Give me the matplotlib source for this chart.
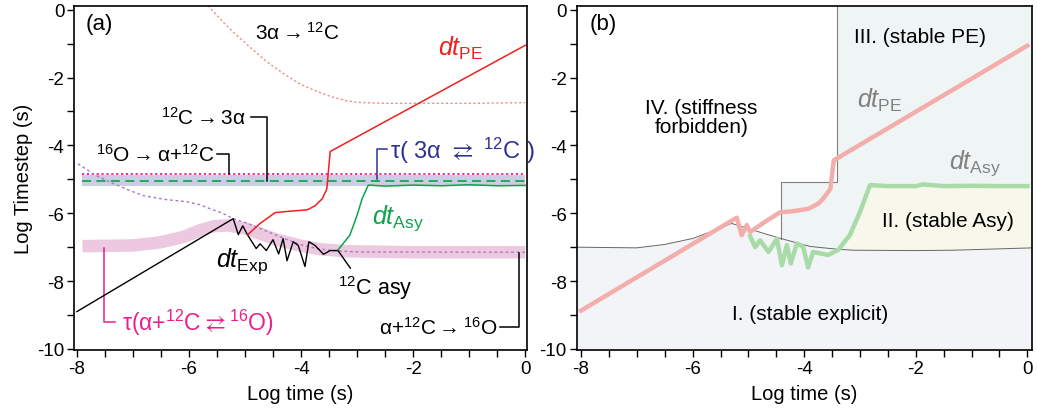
import numpy as np
import matplotlib
matplotlib.use("Agg")
import matplotlib.pyplot as plt
from matplotlib.ticker import MultipleLocator

plt.rcParams['font.family'] = ['Liberation Sans', 'DejaVu Sans']
plt.rcParams['mathtext.fontset'] = 'custom'
plt.rcParams['mathtext.rm'] = 'Liberation Sans'
plt.rcParams['mathtext.it'] = 'Liberation Sans:italic'
plt.rcParams['mathtext.fallback'] = 'stixsans'
plt.rcParams['axes.unicode_minus'] = False

# ---- panel (a) data ----
pe_x = [-4.95, -4.73, -4.46, -4.2, -3.89, -3.75, -3.62, -3.54, -3.48, 0.0]
pe_y = [-6.63, -6.3, -5.98, -5.94, -5.9, -5.78, -5.57, -5.28, -4.18, -1.05]

exp_x = [-8.0, -5.21, -5.12, -5.04, -4.95, -4.8, -4.73, -4.62, -4.5, -4.4, -4.32,
         -4.25, -4.14, -4.05, -3.93, -3.86, -3.75, -3.6, -3.48, -3.34]
exp_y = [-8.9, -6.16, -6.63, -6.37, -6.65, -7.04, -6.9, -7.1, -6.78, -7.2, -6.75,
         -7.4, -6.84, -6.95, -7.57, -6.84, -6.95, -7.21, -7.1, -7.1]

asy_x = [-3.34, -3.13, -3.0, -2.91, -2.8, -2.5, -2.0, -1.5, -1.0, -0.5, 0.0]
asy_y = [-7.08, -6.65, -6.06, -5.57, -5.17, -5.2, -5.17, -5.19, -5.16, -5.19, -5.18]

r3a_x = [-5.66, -5.4, -5.21, -4.9, -4.6, -4.3, -4.02, -3.7, -3.43, -3.2, -3.0, -2.5, -1.0, 0.0]
r3a_y = [0.12, -0.35, -0.66, -1.12, -1.55, -1.9, -2.19, -2.42, -2.58, -2.68, -2.73, -2.76, -2.76, -2.74]

ro_x = [-7.98, -7.7, -7.41, -7.1, -6.82, -6.4, -6.04, -5.8, -5.62, -5.4, -5.21, -4.95,
        -4.73, -4.4, -4.02, -3.7, -3.43, -3.0, 0.0]
ro_y = [-4.54, -4.85, -5.08, -5.3, -5.48, -5.6, -5.66, -5.75, -5.87, -6.0, -6.16, -6.3,
        -6.45, -6.68, -6.92, -7.05, -7.1, -7.14, -7.15]

tau_o_x = [-7.9, -7.0, -6.52, -6.1, -5.8, -5.55, -5.3, -5.0, -4.7, -4.43, -4.0, -3.66, -3.2, -2.0, 0.0]
tau_o_y = [-6.97, -6.95, -6.86, -6.7, -6.5, -6.38, -6.36, -6.45, -6.62, -6.78, -6.96, -7.06, -7.12, -7.15, -7.15]

tau_c_lo, tau_c_hi = -5.2, -4.87
o_to_c_y = -4.85      # 16O -> a+12C
c_to_3a_y = -5.05     # 12C -> 3a
h_x = [-7.9, 0.0]

# ---- panel (b) data ----
bnd_x = [-8.1, -7.0, -6.5, -5.99, -5.6, -5.3, -5.1, -4.91, -4.43, -3.89, -3.41, -3.12, -2.0, -1.33, 0.1]
bnd_y = [-7.0, -7.02, -6.92, -6.74, -6.5, -6.3, -6.4, -6.5, -6.74, -6.98, -7.06, -7.09, -7.1, -7.09, -7.02]

bpe_x = [-8.0, -5.21, -5.12, -5.03, -4.97, -4.7, -4.43, -4.2, -3.93, -3.75, -3.66, -3.53, -3.47, 0.0]
bpe_y = [-8.87, -6.13, -6.65, -6.35, -6.55, -6.25, -5.97, -5.94, -5.87, -5.72, -5.57, -5.28, -4.44, -1.06]

basy_x = [-4.97, -4.88, -4.79, -4.64, -4.49, -4.4, -4.31, -4.24, -4.13, -4.02, -3.93, -3.84,
          -3.57, -3.39, -3.18, -3.0, -2.82, -2.5, -2.0, -1.87, -1.5, -1.0, -0.5, 0.0]
basy_y = [-6.67, -7.0, -6.8, -7.14, -6.75, -7.53, -6.94, -7.48, -6.89, -6.98, -7.6, -7.14,
          -7.23, -7.08, -6.64, -5.96, -5.17, -5.2, -5.2, -5.15, -5.2, -5.19, -5.2, -5.2]

step_x = [-4.41, -3.41]
step_y = -5.08

fig = plt.figure(figsize=(10.37, 4.10), dpi=100)
ax1 = fig.add_axes([0.0714, 0.144, 0.437, 0.839])
ax2 = fig.add_axes([0.556, 0.144, 0.439, 0.839])

for ax in (ax1, ax2):
    ax.set_ylim(-10.03, 0.11)
    ax.xaxis.set_major_locator(MultipleLocator(2))
    ax.xaxis.set_minor_locator(MultipleLocator(0.5))
    ax.yaxis.set_major_locator(MultipleLocator(2))
    ax.yaxis.set_minor_locator(MultipleLocator(1))
    ax.tick_params(which='both', direction='out', length=5, width=1, labelsize=13.5,
                   top=False, right=False, pad=2)
    for s in ax.spines.values():
        s.set_linewidth(1.2)
    ax.set_xlabel("Log time (s)", fontsize=14.5, labelpad=5)
ax1.set_xlim(-8.05, 0.035)
ax2.set_xlim(-8.08, 0.08)
ax1.set_ylabel("Log Timestep (s)", fontsize=14.5, labelpad=3)

arrow = r"$\rightarrow$"

# ---------- panel (a) ----------
ax1.fill_between(h_x, tau_c_lo, tau_c_hi, color='#c9cde6', lw=0, zorder=1)
ax1.plot(tau_o_x, tau_o_y, color='#ecc9e0', lw=9, solid_capstyle='butt', zorder=1)
ax1.plot(h_x, [o_to_c_y] * 2, color='#e8208a', lw=1.3, ls=(0, (1.2, 1.5)), zorder=2)
ax1.plot(h_x, [c_to_3a_y] * 2, color='#1aa84a', lw=1.3, ls=(0, (5, 3)), zorder=2)
ax1.plot(r3a_x, r3a_y, color='#ee8a80', lw=1.0, ls=(0, (1.5, 1.8)), zorder=2)
ax1.plot(ro_x, ro_y, color='#a77ac6', lw=1.0, ls=(0, (2, 2)), zorder=2)
ax1.plot(exp_x, exp_y, color='black', lw=1.0, zorder=3)
ax1.plot(pe_x, pe_y, color='#ee2020', lw=1.1, zorder=3)
ax1.plot(asy_x, asy_y, color='#0ea34a', lw=1.1, zorder=3)

ax1.text(-7.85, -0.42, "(a)", fontsize=16, va='center')
ax1.text(-4.07, -0.66, "3α" + arrow + r"$^{12}$C", fontsize=15, ha='center', va='center')
ax1.text(-1.16, -1.12, r"$dt_{\mathrm{PE}}$", fontsize=18, color='#ee2020', ha='center', va='center')
ax1.text(-4.98, -3.17, r"$^{12}$C" + arrow + "3α", fontsize=15, ha='right', va='center')
ax1.plot([-4.9, -4.6, -4.6], [-3.17, -3.17, c_to_3a_y], color='black', lw=1.1)
ax1.text(-5.55, -4.25, r"$^{16}$O" + arrow + r"α+$^{12}$C", fontsize=15, ha='right', va='center')
ax1.plot([-5.5, -5.29, -5.29], [-4.25, -4.25, o_to_c_y], color='black', lw=1.1)
ax1.plot([-2.46, -2.64, -2.64], [-4.12, -4.12, -4.98], color='#2e3192', lw=1.1)
ax1.text(-2.42, -4.12, r"τ( 3α $\rightleftarrows$ $^{12}$C )", fontsize=17, color='#2e3192',
         ha='left', va='center')
ax1.text(-2.73, -6.12, r"$dt_{\mathrm{Asy}}$", fontsize=18, color='#0ea34a', ha='left', va='center')
ax1.text(-5.06, -7.38, r"$dt_{\mathrm{Exp}}$", fontsize=18, color='black', ha='center', va='center')
ax1.plot([-3.34, -3.12], [-7.1, -7.62], color='black', lw=1.0)
ax1.text(-2.68, -8.17, r"$^{12}$C asy", fontsize=15.5, ha='center', va='center')
ax1.plot([-7.32, -7.52, -7.52], [-9.2, -9.2, -7.02], color='#e8208a', lw=1.1)
ax1.text(-7.2, -9.2, r"τ(α+$^{12}$C$\rightleftarrows$$^{16}$O)", fontsize=16.5, color='#e8208a',
         ha='left', va='center')
ax1.text(-0.5, -9.34, r"α+$^{12}$C" + arrow + r"$^{16}$O", fontsize=15, ha='right', va='center')
ax1.plot([-0.45, -0.12, -0.12], [-9.34, -9.34, -7.18], color='black', lw=1.1)

# ---------- panel (b) ----------
ax2.fill_between(bnd_x, -10.03, bnd_y, color='#f3f4f7', lw=0, zorder=0)
xr = np.linspace(step_x[0], 0.08, 400)
top = np.where(xr < step_x[1], step_y, 0.11)
ax2.fill_between(xr, np.interp(xr, bnd_x, bnd_y), top, color='#eff5f5', lw=0, zorder=0)
xa = np.linspace(-3.39, 0.08, 300)
ax2.fill_between(xa, np.interp(xa, bnd_x, bnd_y), np.interp(xa, basy_x, basy_y),
                 color='#f7f7ec', lw=0, zorder=0)
ax2.plot([step_x[1], step_x[1], step_x[0], step_x[0]],
         [0.11, step_y, step_y, np.interp(step_x[0], bnd_x, bnd_y)],
         color='#808080', lw=0.8, zorder=1)
ax2.plot(bnd_x, bnd_y, color='#666666', lw=0.7, zorder=1)
ax2.plot(basy_x, basy_y, color='#a8dba8', lw=3.2, zorder=2, solid_joinstyle='round')
ax2.plot(bpe_x, bpe_y, color='#f3adaa', lw=3.2, zorder=3, solid_joinstyle='round')

ax2.text(-7.85, -0.42, "(b)", fontsize=16, va='center')
ax2.text(-1.92, -0.8, "III. (stable PE)", fontsize=15, ha='center', va='center')
ax2.text(-2.64, -2.63, r"$dt_{\mathrm{PE}}$", fontsize=18, color='#808080', ha='center', va='center')
ax2.text(-5.84, -3.16, "IV. (stiffness\nforbidden)", fontsize=15, ha='center', va='center',
         linespacing=1.05)
ax2.text(-0.93, -4.49, r"$dt_{\mathrm{Asy}}$", fontsize=18, color='#808080', ha='center', va='center')
ax2.text(-1.42, -6.2, "II. (stable Asy)", fontsize=15, ha='center', va='center')
ax2.text(-3.89, -8.95, "I. (stable explicit)", fontsize=15, ha='center', va='center')

fig.savefig("out.png", dpi=100)
